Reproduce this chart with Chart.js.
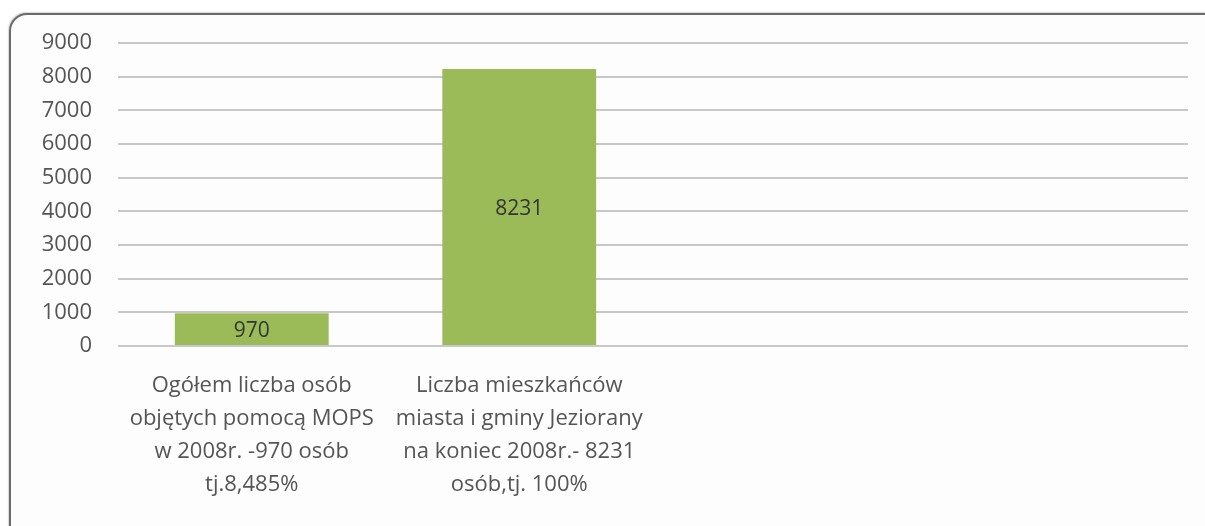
<!DOCTYPE html>
<html>
<head>
<meta charset="utf-8">
<script src="https://cdn.jsdelivr.net/npm/chart.js@4"></script>
<style>
    html, body { margin: 0; padding: 0; background: #ffffff; }
    #wrap { position: relative; width: 1205px; height: 526px; overflow: hidden; }
    #frame {
        position: absolute; left: 9px; top: 13px; width: 1210px; height: 530px;
        border: 2px solid #6b6b6b; border-radius: 18px; background: #fdfdfd;
        box-shadow: -1px -1px 1px rgba(0,0,0,0.15);
    }
    #chart { position: absolute; left: 0; top: 0; }
</style>
</head>
<body>
<div id="wrap">
    <div id="frame"></div>
    <canvas id="chart" width="1205" height="526"></canvas>
</div>
<script>
// ========== DATA ==========
const categories = [
    ['Ogółem liczba osób', 'objętych pomocą MOPS', 'w 2008r. -970 osób', 'tj.8,485%'],
    ['Liczba mieszkańców', 'miasta i gminy Jeziorany', 'na koniec 2008r.- 8231', 'osób,tj. 100%'],
    '',
    ''
];
const values = [970, 8231, null, null];
const yMin = 0;
const yMax = 9000;
const yStep = 1000;

const FONT = '"Open Sans", Lato, sans-serif';
const TEXT_COLOR = '#555555';

// ========== VALUE LABELS INSIDE BARS ==========
const barValueLabels = {
    id: 'barValueLabels',
    afterDatasetsDraw(chart) {
        const ctx = chart.ctx;
        const meta = chart.getDatasetMeta(0);
        ctx.save();
        ctx.font = '21px ' + FONT;
        ctx.fillStyle = '#353535';
        ctx.textAlign = 'center';
        ctx.textBaseline = 'middle';
        meta.data.forEach((bar, i) => {
            const v = values[i];
            if (v === null || v === undefined) return;
            const props = bar.getProps(['x', 'y', 'base'], true);
            ctx.fillText(String(v), props.x, (props.y + props.base) / 2 + 2);
        });
        ctx.restore();
    }
};

new Chart(document.getElementById('chart').getContext('2d'), {
    type: 'bar',
    data: {
        labels: categories,
        datasets: [{
            data: values,
            backgroundColor: '#9bbb59',
            borderWidth: 0,
            categoryPercentage: 1,
            barPercentage: 0.575
        }]
    },
    options: {
        responsive: false,
        animation: false,
        devicePixelRatio: 1,
        layout: { padding: { left: 0, right: 17, top: 43, bottom: 0 } },
        plugins: {
            legend: { display: false },
            tooltip: { enabled: false }
        },
        scales: {
            x: {
                grid: { display: false },
                border: { display: false },
                ticks: {
                    color: TEXT_COLOR,
                    font: { family: FONT, size: 22, lineHeight: 1.5 },
                    padding: 15,
                    autoSkip: false,
                    maxRotation: 0,
                    minRotation: 0
                },
                afterFit(scale) { scale.height = 180; }
            },
            y: {
                min: yMin,
                max: yMax,
                grid: { color: '#c8c8c8', lineWidth: 2, drawTicks: false },
                border: { display: false },
                ticks: {
                    stepSize: yStep,
                    color: TEXT_COLOR,
                    font: { family: FONT, size: 22 },
                    padding: 26,
                    callback: function(value) { return String(value); }
                },
                afterFit(scale) { scale.width = 118; }
            }
        }
    },
    plugins: [barValueLabels]
});
</script>
</body>
</html>
